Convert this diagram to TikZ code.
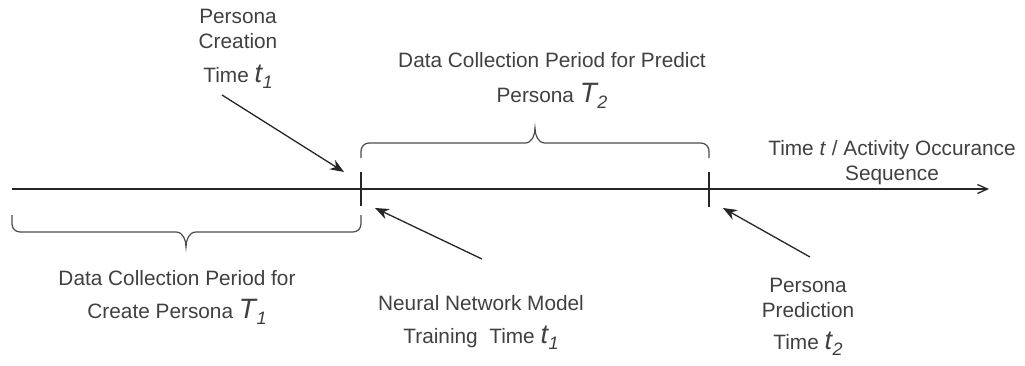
\documentclass[tikz,border=0pt]{standalone}
\usepackage{fontspec}
\setmainfont{Liberation Sans}
\usetikzlibrary{arrows.meta}

% large italic symbol with a lowered index, e.g. t_1 or T_2
\newcommand{\timesym}[3]{{\fontsize{#3}{#3}\selectfont\itshape #1}\kern0.5pt\raisebox{-6pt}{\fontsize{18}{18}\selectfont\itshape #2}}

\begin{document}
\begin{tikzpicture}[x=1pt,y=-1pt,
  label/.style={inner sep=0pt, align=center, text=black!75, anchor=north,
                font=\fontsize{20.8}{25}\selectfont},
  axisline/.style={draw=black!85, line width=1.3pt, -{Straight Barb[length=10pt,width=9pt,line width=1.3pt]}},
  tick/.style={draw=black!85, line width=1.3pt},
  brace/.style={draw=black!70, line width=1.2pt},
  pointer/.style={draw=black!85, line width=1.3pt, -{Stealth[length=14pt,width=11pt]}}]
\useasboundingbox (0,0) rectangle (1025,365);

% time axis and its two ticks
\coordinate (axisstart) at (12,189);
\coordinate (axisend) at (989,189);
\draw[axisline] (axisstart) -- (axisend);
\coordinate (tickAtop) at (361,172);
\coordinate (tickAbot) at (361,206);
\coordinate (tickBtop) at (709,172);
\coordinate (tickBbot) at (709,207);
\draw[tick] (tickAtop) -- (tickAbot);
\draw[tick] (tickBtop) -- (tickBbot);

% brace over the prediction period
\draw[brace] (361,158) -- (361,151) to[out=90,in=180] (369,143) -- (525,143)
  to[out=0,in=-90] (535,128) to[out=-90,in=180] (545,143) -- (701,143)
  to[out=0,in=90] (709,151) -- (709,158);

% brace under the creation period
\draw[brace] (12,215) -- (12,224) to[out=-90,in=180] (20,232) -- (176,232)
  to[out=0,in=90] (186,247) to[out=90,in=180] (196,232) -- (353,232)
  to[out=0,in=-90] (361,224) -- (361,215);

% labels
\node[label] (creation) at (238,9) {Persona\\Creation\\[9pt]Time \timesym{t}{1}{27}};
\node[label] (predictT2) at (552,52) {Data Collection Period for Predict\\[10pt]Persona \timesym{T}{2}{28}};
\node[label] (axislabel) at (892,140) {Time \textit{t} / Activity Occurance\\Sequence};
\node[label] (createT1) at (177,270) {Data Collection Period for\\[8pt]Create Persona \timesym{T}{1}{28}};
\node[label] (training) at (481,295) {Neural Network Model\\[8pt]Training\ \ Time \timesym{t}{1}{27}};
\node[label] (prediction) at (808,278) {Persona\\Prediction\\[7pt]Time \timesym{t}{2}{27}};

% pointers to the marked instants
\coordinate (p1tail) at (222,95);
\coordinate (p1head) at (344,172);
\coordinate (p2tail) at (482,259);
\coordinate (p2head) at (375,208);
\coordinate (p3tail) at (810,257);
\coordinate (p3head) at (723,208);
\draw[pointer] (p1tail) -- (p1head);
\draw[pointer] (p2tail) -- (p2head);
\draw[pointer] (p3tail) -- (p3head);
\end{tikzpicture}
\end{document}
